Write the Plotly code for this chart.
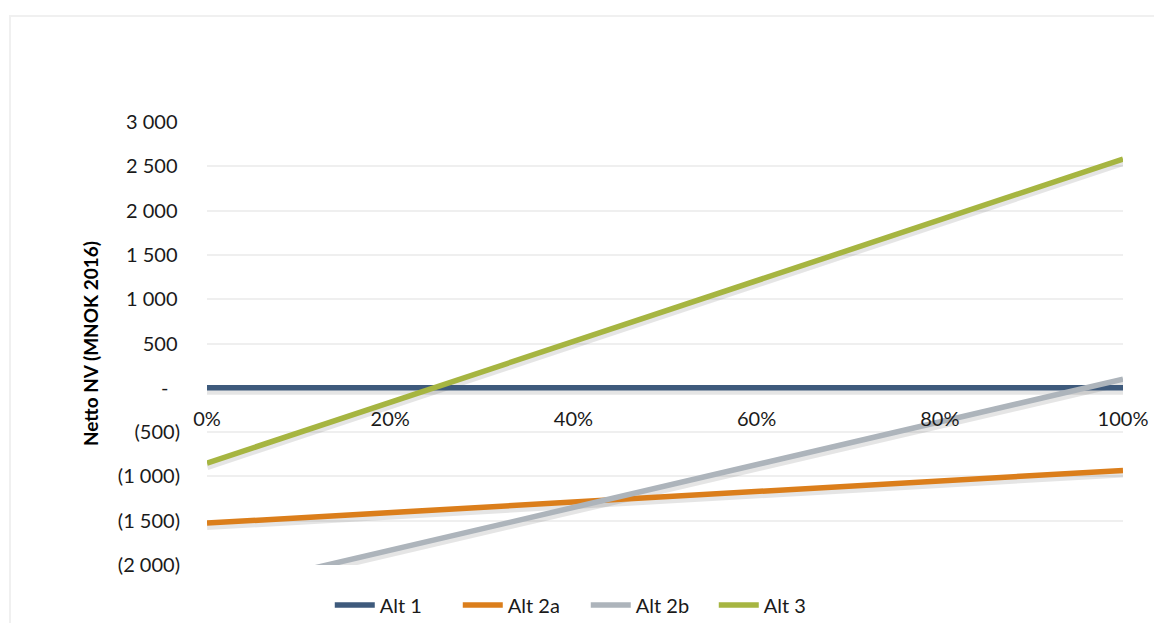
import plotly.graph_objects as go

# Share of benefit realised (fraction) and net present value per alternative, MNOK 2016
share = [0.0, 1.0]
alt_1 = [0, 0]
alt_2a = [-1527, -933]
alt_2b = [-2316, 98]
alt_3 = [-850, 2581]

series_names = ["Alt 1", "Alt 2a", "Alt 2b", "Alt 3"]
series_values = [alt_1, alt_2a, alt_2b, alt_3]
series_colors = ["#3E5A7C", "#DB7E1B", "#ADB4BB", "#A6B541"]

y_tickvals = [3000, 2500, 2000, 1500, 1000, 500, 0, -500, -1000, -1500, -2000]
y_ticktext = ["3 000\u2009", "2 500\u2009", "2 000\u2009", "1 500\u2009", "1 000\u2009",
              "500\u2009", "-\u2007", "(500)", "(1 000)", "(1 500)", "(2 000)"]
x_tickvals = [0, 0.2, 0.4, 0.6, 0.8, 1.0]
x_ticktext = ["0%", "20%", "40%", "60%", "80%", "100%"]

Y_MIN, Y_MAX = -2000, 3000
W, H = 1154, 623
M_L, M_R, M_T, M_B = 207, 31, 122, 58
plot_h = H - M_T - M_B
# soft drop shadow offset (about 3 px) expressed in axis units
shadow_dy = 3 * (Y_MAX - Y_MIN) / plot_h

FONT = "Lato, 'Open Sans', sans-serif"
FS = 20

fig = go.Figure()

for vals in series_values:
    fig.add_trace(go.Scatter(
        x=share, y=[v - shadow_dy for v in vals], mode="lines",
        line=dict(color="rgba(0,0,0,0.10)", width=8),
        hoverinfo="skip", showlegend=False,
    ))

for name, vals, col in zip(series_names, series_values, series_colors):
    fig.add_trace(go.Scatter(
        x=share, y=vals, mode="lines", name=name,
        line=dict(color=col, width=5.5),
    ))

fig.update_layout(
    width=W, height=H,
    margin=dict(l=M_L, r=M_R, t=M_T, b=M_B, autoexpand=False),
    paper_bgcolor="white", plot_bgcolor="white",
    font=dict(family=FONT, size=FS, color="#1a1a1a"),
    showlegend=True,
    legend=dict(
        orientation="h", xref="container", yref="container",
        x=0.5076, xanchor="center", y=1 - 605 / H, yanchor="middle",
        font=dict(size=FS, color="#1a1a1a"), traceorder="normal",
        itemwidth=40, entrywidth=73,
    ),
    xaxis=dict(
        range=[0, 1], tickvals=x_tickvals, ticktext=x_ticktext,
        anchor="free", position=(0 - Y_MIN) / (Y_MAX - Y_MIN),
        showgrid=False, zeroline=False, showline=False,
        ticks="outside", ticklen=13, tickcolor="rgba(0,0,0,0)",
        tickfont=dict(size=FS, color="#1a1a1a"),
        fixedrange=True,
    ),
    yaxis=dict(
        range=[Y_MIN, Y_MAX], tickvals=y_tickvals, ticktext=y_ticktext,
        showgrid=True, gridcolor="#EFEFEF", gridwidth=1.5,
        zeroline=False, showline=False, ticks="outside", ticklen=22,
        tickcolor="rgba(0,0,0,0)",
        tickfont=dict(size=FS, color="#1a1a1a"),
        title=dict(text="<b>Netto NV (MNOK 2016)</b>", standoff=14,
                   font=dict(size=19, color="#000000")),
        fixedrange=True,
    ),
    shapes=[dict(
        type="rect", xref="paper", yref="paper",
        x0=(10 - M_L) / (W - M_L - M_R), x1=(1160 - M_L) / (W - M_L - M_R),
        y0=-(H + 10 - M_T - plot_h) / plot_h, y1=(plot_h + M_T - 16) / plot_h,
        line=dict(color="#F0F0F0", width=2), layer="below",
    )],
)

fig.write_html("out.html")
